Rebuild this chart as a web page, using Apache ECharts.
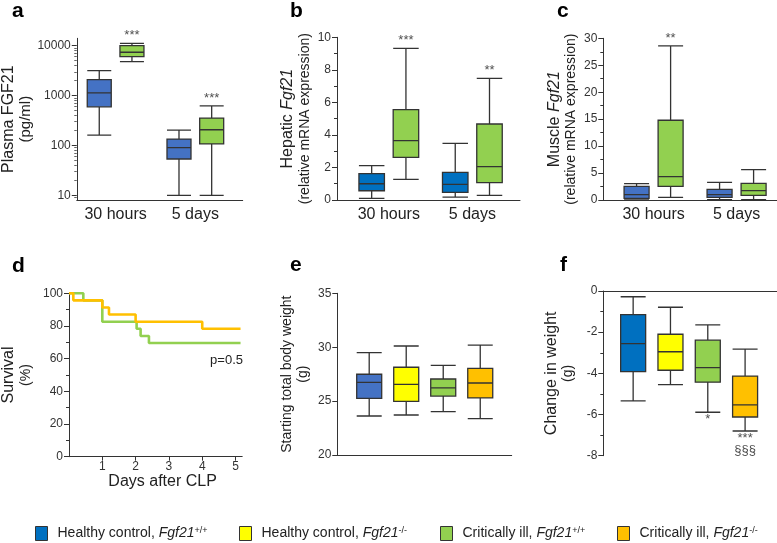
<!DOCTYPE html>
<html><head><meta charset="utf-8">
<script src="https://cdn.jsdelivr.net/npm/echarts@6/dist/echarts.min.js"></script>
<style>html,body{margin:0;padding:0;background:#fff}#c{width:777px;height:543px}</style>
</head><body><div id="c"></div>
<script>
// ---------------- DATA ----------------
const categories = ['30 hours', '5 days'];
const groupNames = ['Healthy control, Fgf21+/+', 'Healthy control, Fgf21-/-', 'Critically ill, Fgf21+/+', 'Critically ill, Fgf21-/-'];

// box values: [min, Q1, median, Q3, max] per category
const plasmaHealthy = [[161, 594, 1132, 2089, 3162], [10, 53.5, 90, 134, 203]];
const plasmaIll     = [[4786, 6026, 7380, 10000, 11170], [10, 107, 206, 353, 622]];
const plasmaSig     = ['***', '***'];

const hepaticHealthy = [[0.1, 0.57, 1.0, 1.62, 2.11], [0.18, 0.47, 0.96, 1.70, 3.48]];
const hepaticIll     = [[1.27, 2.62, 3.65, 5.55, 9.32], [0.29, 1.07, 2.05, 4.67, 7.48]];
const hepaticSig     = ['***', '**'];

const muscleHealthy = [[0.15, 0.31, 0.99, 2.54, 3.02], [0.05, 0.5, 0.99, 1.98, 3.28]];
const muscleIll     = [[0.5, 2.54, 4.33, 14.8, 28.6], [0.05, 0.87, 1.73, 3.1, 5.62]];
const muscleSig     = ['**', ''];

// survival (Kaplan-Meier steps)
const survTimesWT = [0, 0.43, 1.0, 2.03, 2.15, 2.4, 5.15];
const survWT      = [100, 95.7, 82.6, 78.3, 73.9, 69.6, 69.6];
const survTimesKO = [0, 0.13, 1.0, 1.2, 2.0, 4.0, 5.15];
const survKO      = [100, 95.7, 91.3, 87.0, 82.6, 78.3, 78.3];
const pValueText  = 'p=0.5';

// one box per group (order = groupNames)
const startWeight  = [[23.62, 25.26, 26.74, 27.49, 29.49], [23.71, 24.98, 26.56, 28.14, 30.11], [24.02, 25.47, 26.22, 27.05, 28.32], [23.37, 25.29, 26.68, 28.04, 30.2]];
const weightChange = [[-5.34, -3.92, -2.56, -1.15, -0.28], [-4.55, -3.85, -2.95, -2.1, -0.79], [-5.89, -4.43, -3.72, -2.39, -1.65], [-6.8, -6.12, -5.53, -4.13, -2.82]];
const weightChangeSig = ['', '', '*', '***\n§§§'];

const logMajorTicks = [10, 100, 1000, 10000];
const linearDayTicks = [1, 2, 3, 4, 5];

// ---------------- STYLE / LAYOUT ----------------
const FONT = 'Arial, "Liberation Sans", Helvetica, sans-serif';
const AXC = '#333';
const TXT = '#222';
const BORDER = '#333';
const C_BLUE_A = '#4472c4', C_BLUE_B = '#0070c0', C_YEL = '#ffff00', C_GRN = '#92d050', C_ORG = '#ffc000';
const legendColors = [C_BLUE_B, C_YEL, C_GRN, C_ORG];

const GEO = {
  a: {left: 70, top: 38.3, width: 172.7, height: 161.7, xmin: -0.487, xmax: 1.594},
  b: {left: 337, top: 37.3, width: 183, height: 162.7, xmin: -0.62, xmax: 1.57},
  c: {left: 603.3, top: 38.3, width: 173.7, height: 161.7, xmin: -0.606, xmax: 1.487},
  d: {left: 69, top: 293.3, width: 173.2, height: 163.4},
  e: {left: 337.3, top: 293.3, width: 174.4, height: 161.7, xmin: -0.862, xmax: 3.85},
  f: {left: 603.3, top: 291, width: 173.7, height: 164.7, xmin: -0.80, xmax: 3.855}
};

const nameRich = {
  t: {fontSize: 16, lineHeight: 18, fontFamily: FONT, color: TXT},
  ti: {fontSize: 16, lineHeight: 18, fontFamily: FONT, color: TXT, fontStyle: 'italic'},
  s: {fontSize: 15, lineHeight: 16, fontFamily: FONT, color: TXT},
  m: {fontSize: 14, lineHeight: 16, fontFamily: FONT, color: TXT}
};

function yBase(extra) {
  return Object.assign({
    splitLine: {show: false},
    axisLine: {show: true, onZero: false, lineStyle: {color: AXC, width: 1}},
    axisTick: {show: true, length: 5, lineStyle: {color: AXC}},
    minorTick: {show: false},
    axisLabel: {fontSize: 12, color: '#333', fontFamily: FONT, margin: 6},
    nameLocation: 'middle', nameRotate: 90,
    nameTextStyle: {rich: nameRich}
  }, extra);
}

const grids = [], xAxes = [], yAxes = [], series = [];

function makeBoxPanel(cfg) {
  const g = cfg.geo;
  const gi = grids.push({left: g.left, top: g.top, width: g.width, height: g.height}) - 1;
  const yi = yAxes.push(Object.assign({gridIndex: gi}, cfg.yAxis)) - 1;
  (cfg.extraY || []).forEach(y => yAxes.push(Object.assign({gridIndex: gi}, y)));
  cfg.groups.forEach((grp, k) => {
    const xi = xAxes.push(Object.assign({
      type: 'value', gridIndex: gi, min: g.xmin, max: g.xmax,
      position: cfg.xPos || 'bottom',
      splitLine: {show: false}, axisTick: {show: false}, axisLabel: {show: false},
      axisLine: {show: true, onZero: false, lineStyle: {color: AXC, width: 1}}
    }, k === 0 ? (cfg.xAxis || {}) : {show: false})) - 1;
    series.push({
      type: 'boxplot', name: grp.name, xAxisIndex: xi, yAxisIndex: yi,
      boxWidth: [cfg.boxW, cfg.boxW], silent: true,
      itemStyle: {color: grp.color, borderColor: BORDER, borderWidth: 1.3},
      emphasis: {disabled: true},
      data: grp.values.map((v, i) => [cfg.pos(i, k)].concat(v))
    });
    if (grp.sig) {
      series.push({
        type: 'scatter', xAxisIndex: xi, yAxisIndex: yi, silent: true,
        symbolSize: 1, itemStyle: {color: 'rgba(0,0,0,0)'},
        data: grp.values.map((v, i) => [cfg.pos(i, k), cfg.sigBelow ? v[0] : v[4]]),
        label: {show: true, position: cfg.sigBelow ? 'bottom' : 'top', distance: 1,
          formatter: p => grp.sig[p.dataIndex], fontSize: 13, lineHeight: 12, color: TXT, fontFamily: FONT}
      });
    }
  });
}

const catXAxis = {
  axisLabel: {show: true, customValues: categories.map((c, i) => i),
    formatter: v => categories[Math.round(v)], fontSize: 16, color: TXT, fontFamily: FONT, margin: 7}
};
const OFF = 0.205;
const pairPos = (i, k) => i + (k === 0 ? -OFF : OFF);
const logMinor = [];
[1, 10, 100, 1000].forEach(d => { for (let m = 2; m <= 9; m++) logMinor.push(m * d); });

// a
makeBoxPanel({
  geo: GEO.a, boxW: 24, pos: pairPos, xAxis: catXAxis,
  yAxis: yBase({type: 'log', logBase: 10, min: 8.05, max: 14060,
    axisTick: {show: true, length: 5, lineStyle: {color: AXC}, customValues: logMajorTicks},
    axisLabel: {fontSize: 12, color: '#333', fontFamily: FONT, margin: 6, customValues: logMajorTicks, formatter: v => String(Math.round(v))},
    name: '{t|Plasma FGF21}\n{s|(pg/ml)}', nameGap: 36}),
  extraY: [{type: 'log', logBase: 10, min: 8.05, max: 14060, position: 'left',
    axisLine: {show: false, onZero: false}, axisLabel: {show: false}, splitLine: {show: false},
    axisTick: {show: true, length: 2.5, lineStyle: {color: '#666'}, customValues: logMinor.filter(v => v > 8.05)}}],
  groups: [
    {name: groupNames[0], color: C_BLUE_A, values: plasmaHealthy},
    {name: groupNames[2], color: C_GRN, values: plasmaIll, sig: plasmaSig}
  ]
});
// b
makeBoxPanel({
  geo: GEO.b, boxW: 25.5, pos: pairPos, xAxis: catXAxis,
  yAxis: yBase({type: 'value', min: 0, max: 10, interval: 2,
    minorTick: {show: true, splitNumber: 2, length: 3, lineStyle: {color: AXC}},
    name: '{t|Hepatic }{ti|Fgf21}\n{m|(relative mRNA expression)}', nameGap: 24}),
  groups: [
    {name: groupNames[0], color: C_BLUE_B, values: hepaticHealthy},
    {name: groupNames[2], color: C_GRN, values: hepaticIll, sig: hepaticSig}
  ]
});
// c
makeBoxPanel({
  geo: GEO.c, boxW: 25, pos: pairPos, xAxis: catXAxis,
  yAxis: yBase({type: 'value', min: 0, max: 30, interval: 5,
    minorTick: {show: true, splitNumber: 2, length: 3, lineStyle: {color: AXC}},
    name: '{t|Muscle }{ti|Fgf21}\n{m|(relative mRNA expression)}', nameGap: 24}),
  groups: [
    {name: groupNames[0], color: C_BLUE_A, values: muscleHealthy},
    {name: groupNames[2], color: C_GRN, values: muscleIll, sig: muscleSig}
  ]
});
// e
makeBoxPanel({
  geo: GEO.e, boxW: 25, pos: (i, k) => k,
  yAxis: yBase({type: 'value', min: 20, max: 35, interval: 5,
    name: '{m|Starting total body weight}\n{m|(g)}', nameGap: 26}),
  groups: groupNames.map((n, k) => ({name: n, color: [C_BLUE_A, C_YEL, C_GRN, C_ORG][k], values: [startWeight[k]]}))
});
// f
makeBoxPanel({
  geo: GEO.f, boxW: 25, pos: (i, k) => k, xPos: 'top', sigBelow: true,
  yAxis: yBase({type: 'value', min: -8, max: 0, interval: 2,
    minorTick: {show: true, splitNumber: 2, length: 3, lineStyle: {color: AXC}},
    name: '{t|Change in weight}\n{m|(g)}', nameGap: 27}),
  groups: groupNames.map((n, k) => ({name: n, color: [C_BLUE_B, C_YEL, C_GRN, C_ORG][k], values: [weightChange[k]],
    sig: weightChangeSig[k] ? [weightChangeSig[k]] : null}))
});

// d  survival
{
  const g = GEO.d;
  const gi = grids.push({left: g.left, top: g.top, width: g.width, height: g.height}) - 1;
  const xi = xAxes.push({type: 'value', gridIndex: gi, min: 0, max: 5.2,
    splitLine: {show: false},
    axisLine: {show: true, onZero: false, lineStyle: {color: AXC}},
    axisTick: {show: true, length: 4, lineStyle: {color: AXC}, customValues: linearDayTicks},
    axisLabel: {customValues: linearDayTicks, fontSize: 12, color: '#333', fontFamily: FONT, margin: 4},
    name: 'Days after CLP', nameLocation: 'middle', nameGap: 17,
    nameTextStyle: {fontSize: 16, color: TXT, fontFamily: FONT, padding: [0, 0, 0, 14]}}) - 1;
  const yi = yAxes.push(Object.assign({gridIndex: gi}, yBase({type: 'value', min: 0, max: 100, interval: 20,
    minorTick: {show: true, splitNumber: 2, length: 3, lineStyle: {color: AXC}},
    name: '{t|Survival}\n{m|(%)}', nameGap: 35}))) - 1;
  series.push({type: 'line', name: groupNames[2], xAxisIndex: xi, yAxisIndex: yi, step: 'end', showSymbol: false, silent: true,
    lineStyle: {color: C_GRN, width: 2.6}, itemStyle: {color: C_GRN},
    data: survTimesWT.map((t, i) => [t, survWT[i]])});
  series.push({type: 'line', name: groupNames[3], xAxisIndex: xi, yAxisIndex: yi, step: 'end', showSymbol: false, silent: true,
    lineStyle: {color: C_ORG, width: 2.6}, itemStyle: {color: C_ORG},
    data: survTimesKO.map((t, i) => [t, survKO[i]])});
}

// legend
const legendLeft = [35, 239, 440, 617];
const legends = groupNames.map((n, i) => ({
  left: legendLeft[i], top: 526, padding: 0, icon: 'rect', itemWidth: 12, itemHeight: 14,
  selectedMode: false,
  data: [{name: n, itemStyle: {color: legendColors[i], borderColor: '#333', borderWidth: 1}}],
  formatter: name => {
    const idx = name.indexOf('Fgf21');
    return '{n|' + name.slice(0, idx) + '}{i|Fgf21}{s|' + name.slice(idx + 5) + '}';
  },
  textStyle: {rich: {
    n: {fontSize: 14, fontFamily: FONT, color: TXT, padding: [0, 0, 0, 5]},
    i: {fontSize: 14, fontFamily: FONT, color: TXT, fontStyle: 'italic'},
    s: {fontSize: 9, fontFamily: FONT, color: TXT, verticalAlign: 'top'}
  }}
}));

const panelLetters = ['a', 'b', 'c', 'd', 'e', 'f'];
const letterPos = [[12, 11], [290, 11], [557, 11], [12, 266], [290, 265], [560, 265]];
const graphic = panelLetters.map((t, i) => ({
  type: 'text', x: letterPos[i][0], y: letterPos[i][1], silent: true,
  style: {text: t, font: 'bold 21px ' + FONT, fill: '#000', verticalAlign: 'middle'}
}));
graphic.push({type: 'text', x: 243, y: 360, silent: true,
  style: {text: pValueText, font: '13px ' + FONT, fill: TXT, align: 'right', verticalAlign: 'middle'}});

const chart = echarts.init(document.getElementById('c'));
chart.setOption({
  animation: false,
  backgroundColor: '#fff',
  textStyle: {fontFamily: FONT},
  grid: grids, xAxis: xAxes, yAxis: yAxes, series, legend: legends, graphic
});
</script></body></html>
